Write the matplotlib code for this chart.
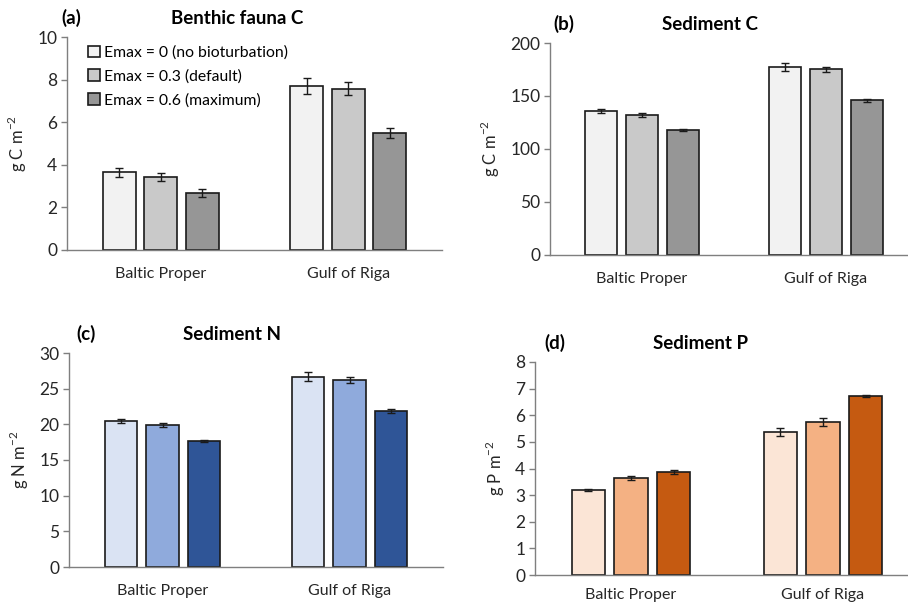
import numpy as np
import matplotlib.pyplot as plt

plt.rcParams['font.family'] = ['Lato', 'DejaVu Sans']

regions = ["Baltic Proper", "Gulf of Riga"]
scenarios = ["Emax = 0 (no bioturbation)", "Emax = 0.3 (default)", "Emax = 0.6 (maximum)"]

# values per scenario: [Baltic Proper, Gulf of Riga]
fauna_c = [[3.65, 7.70], [3.42, 7.58], [2.68, 5.50]]
fauna_c_err = [[0.20, 0.38], [0.20, 0.30], [0.18, 0.25]]

sed_c = [[136.0, 177.5], [132.0, 175.0], [118.0, 146.0]]
sed_c_err = [[2.0, 4.0], [1.5, 2.5], [1.0, 1.5]]

sed_n = [[20.5, 26.7], [19.9, 26.2], [17.7, 21.9]]
sed_n_err = [[0.25, 0.65], [0.22, 0.45], [0.12, 0.28]]

sed_p = [[3.18, 5.37], [3.63, 5.75], [3.87, 6.72]]
sed_p_err = [[0.04, 0.14], [0.07, 0.15], [0.06, 0.05]]

greys = ["#f2f2f2", "#c9c9c9", "#969696"]
blues = ["#dae3f3", "#8faadc", "#2f5597"]
oranges = ["#fbe5d6", "#f4b183", "#c55a11"]

W, H = 908, 606
fig = plt.figure(figsize=(W / 100, H / 100), dpi=100)


def px_axes(left, right, top, bottom):
    return fig.add_axes([left / W, 1 - bottom / H, (right - left) / W, (bottom - top) / H])


def panel(ax, vals, errs, colors, ymax, ystep, ylabel, tag, title, tag_x, title_x, xpad=12):
    x = np.arange(len(regions))
    step = 0.222
    width = 0.175
    for i in range(3):
        ax.bar(x + (i - 1) * step, vals[i], width, color=colors[i],
               edgecolor="#1a1a1a", linewidth=1.2, zorder=2,
               yerr=errs[i], capsize=3.2,
               error_kw=dict(ecolor="#1a1a1a", elinewidth=1.0, capthick=1.0),
               label=scenarios[i])
    ax.set_xlim(-0.5, 1.5)
    ax.set_ylim(0, ymax)
    ax.set_yticks(np.arange(0, ymax + ystep / 2, ystep))
    ax.set_xticks(x)
    ax.set_xticklabels(regions, fontsize=11.5, color="#262626")
    ax.tick_params(axis="x", length=0, pad=xpad)
    ax.tick_params(axis="y", length=4, width=1, color="#7f7f7f", labelsize=12.5,
                   labelcolor="#262626", pad=3)
    for s in ["top", "right"]:
        ax.spines[s].set_visible(False)
    for s in ["left", "bottom"]:
        ax.spines[s].set_color("#7f7f7f")
        ax.spines[s].set_linewidth(1.0)
    ax.set_ylabel(ylabel, fontsize=12, color="#262626", labelpad=6)
    ax.text(tag_x, 1.045, tag, transform=ax.transAxes, fontsize=13.5,
            fontweight="bold", ha="left", va="bottom")
    ax.text(title_x, 1.045, title, transform=ax.transAxes, fontsize=13.5,
            fontweight="bold", ha="center", va="bottom")


ax_a = px_axes(67, 442, 37, 250)
panel(ax_a, fauna_c, fauna_c_err, greys, 10, 2, "g C m$^{\\mathregular{-2}}$",
      "(a)", "Benthic fauna C", -0.015, 0.455)
ax_a.legend(loc="upper left", bbox_to_anchor=(0.04, 0.99), frameon=False,
            fontsize=11.3, handlelength=0.75, handleheight=0.75,
            handletextpad=0.25, labelspacing=0.6, borderaxespad=0)

ax_b = px_axes(550, 918, 43, 255)
panel(ax_b, sed_c, sed_c_err, greys, 200, 50, "g C m$^{\\mathregular{-2}}$",
      "(b)", "Sediment C", 0.01, 0.435)

ax_c = px_axes(69, 443, 353, 567)
panel(ax_c, sed_n, sed_n_err, blues, 30, 5, "g N m$^{\\mathregular{-2}}$",
      "(c)", "Sediment N", 0.02, 0.435)

ax_d = px_axes(535, 919, 362, 575)
panel(ax_d, sed_p, sed_p_err, oranges, 8, 1, "g P m$^{\\mathregular{-2}}$",
      "(d)", "Sediment P", 0.025, 0.43, xpad=9)

fig.savefig("out.png", dpi=100)
